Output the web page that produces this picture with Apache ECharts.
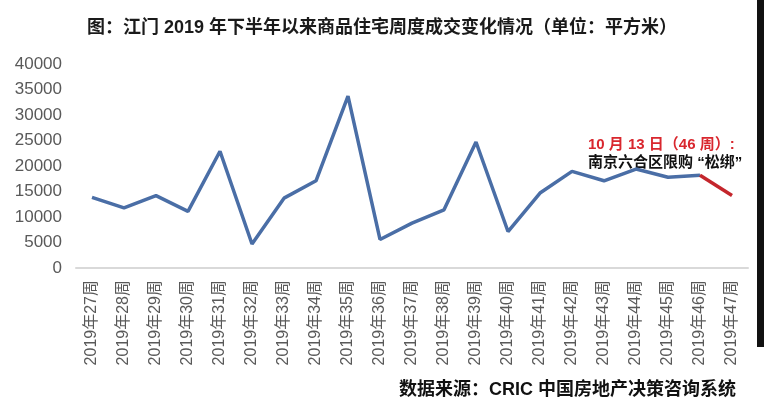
<!DOCTYPE html>
<html><head><meta charset="utf-8">
<script src="https://cdn.jsdelivr.net/npm/echarts@6/dist/echarts.min.js"></script>
<style>html,body{margin:0;padding:0;background:#fff}#c{width:764px;height:410px}</style>
</head><body><div id="c"></div>
<script>
const weeks = ['2019年27周','2019年28周','2019年29周','2019年30周','2019年31周','2019年32周','2019年33周','2019年34周','2019年35周','2019年36周','2019年37周','2019年38周','2019年39周','2019年40周','2019年41周','2019年42周','2019年43周','2019年44周','2019年45周','2019年46周','2019年47周'];
const values = [13850, 11800, 14200, 11100, 22900, 4700, 13700, 17100, 33700, 5600, 8800, 11400, 24700, 7150, 14700, 18950, 17100, 19400, 17800, 18200, 14200];
const yTicks = {min: 0, max: 40000, interval: 5000};
const redStart = 19; // 46周 onward drawn red

const blueData = values.map((v, i) => i <= redStart ? v : null);
const redData = values.map((v, i) => i >= redStart ? v : null);
const FONT = '"Liberation Sans", "Noto Sans CJK SC", sans-serif';

const chart = echarts.init(document.getElementById('c'), null, {renderer: 'canvas'});
chart.setOption({
  animation: false,
  backgroundColor: '#fff',
  title: {
    text: '图：江门 2019 年下半年以来商品住宅周度成交变化情况（单位：平方米）',
    left: 'center', top: 14,
    textStyle: {fontFamily: FONT, fontSize: 18, fontWeight: 'bold', color: '#1a1a1a'}
  },
  grid: {left: 76, right: 16, top: 64, bottom: 142},
  xAxis: {
    type: 'category', data: weeks, boundaryGap: true,
    axisLine: {lineStyle: {color: '#d9d9d9', width: 2}},
    axisTick: {show: false},
    axisLabel: {rotate: 90, interval: 0, margin: 12, fontFamily: FONT, fontSize: 16, color: '#595959'}
  },
  yAxis: {
    type: 'value', min: yTicks.min, max: yTicks.max, interval: yTicks.interval,
    axisLine: {show: false}, axisTick: {show: false}, splitLine: {show: false},
    axisLabel: {margin: 14, fontFamily: FONT, fontSize: 17, color: '#595959', formatter: v => String(v)}
  },
  series: [
    {type: 'line', data: blueData, symbol: 'none', lineStyle: {color: '#4a6ea6', width: 3.5}, z: 2},
    {type: 'line', data: redData, symbol: 'none', lineStyle: {color: '#c4262c', width: 3.5}, z: 3}
  ],
  graphic: [
    {type: 'text', left: 588, top: 137, style: {text: '10 月 13 日（46 周）:', fill: '#d9272e', font: 'bold 15px ' + FONT}},
    {type: 'text', left: 588, top: 155, style: {text: '南京六合区限购 “松绑”', fill: '#111', font: 'bold 15px ' + FONT}},
    {type: 'text', left: 399, top: 381, style: {text: '数据来源：CRIC 中国房地产决策咨询系统', fill: '#111', font: 'bold 18px ' + FONT}},
    {type: 'rect', shape: {x: 757, y: 0, width: 7, height: 347}, style: {fill: '#111'}}
  ]
});
</script></body></html>
